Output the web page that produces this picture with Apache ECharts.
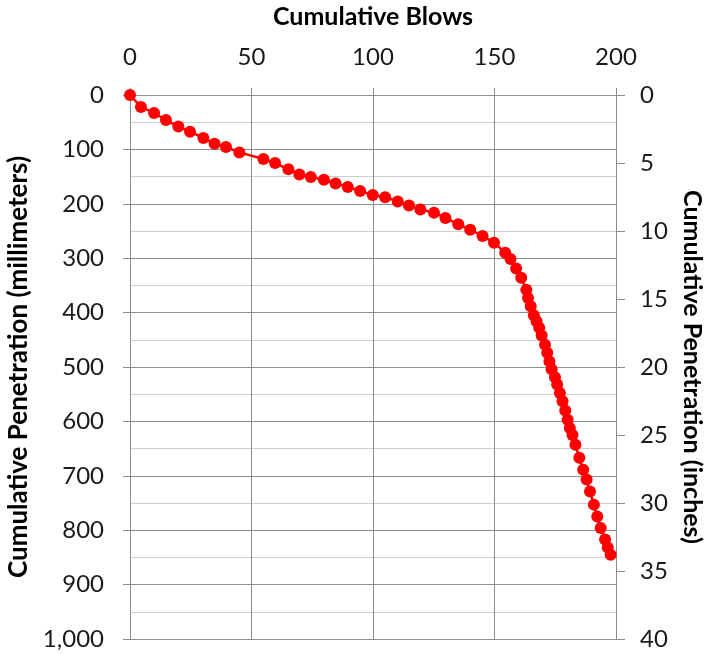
<!DOCTYPE html>
<html>
<head>
<meta charset="utf-8">
<script src="https://cdn.jsdelivr.net/npm/echarts@6/dist/echarts.min.js"></script>
<style>
  html, body { margin: 0; padding: 0; background: #fff; }
  #chart { width: 705px; height: 654px; }
</style>
</head>
<body>
<div id="chart"></div>
<script>
// Cumulative blow count and matching penetration depth (mm)
const blows = [
  0, 4.5, 9.9, 14.8, 19.9, 24.7, 30.2, 34.8, 39.5, 45,
  54.9, 59.7, 65.2, 69.7, 74.4, 79.8, 84.6, 89.6, 94.7, 99.9,
  105, 110.2, 114.8, 119.5, 125.1, 129.8, 135.1, 140, 145.1, 149.8,
  154.4, 156.6, 158.9, 161, 163.1, 163.8, 164.9, 166.2, 167.3, 168.4,
  169.4, 170.8, 171.7, 172.6, 173.5, 174.9, 175.8, 176.9, 178, 179.1,
  180.1, 181, 182.1, 183.3, 184.9, 186.5, 187.9, 189.3, 190.9, 192.3,
  193.7, 195.5, 196.6, 197.8
];
const penetrationMm = [
  0, 22, 33, 46, 58, 67.5, 79, 89.5, 95.6, 105.5,
  117.6, 125, 136.7, 146, 150.8, 155.7, 162.5, 169, 176.5, 183.8,
  188, 195.6, 203, 210.3, 216.4, 226, 237.8, 247.6, 259.2, 271.5,
  290, 301.5, 319, 336, 358, 373, 388.5, 405, 416, 428,
  442, 459, 474, 490, 504, 519, 532, 548, 563, 580,
  597, 612, 625, 643, 667, 689, 707, 729, 753, 775,
  796, 817, 832, 845
];

const xTicks = { min: 0, max: 200, step: 50 };
const mmTicks = { min: 0, max: 1000, step: 100 };
const inchTicks = { min: 0, max: 40, step: 5 };

const points = blows.map((b, i) => [b, penetrationMm[i]]);

const font = 'Lato, "Open Sans", sans-serif';
const majorGrid = '#8c8c8c';
const minorGrid = '#cfcfcf';

const chart = echarts.init(document.getElementById('chart'), null, { renderer: 'canvas' });
chart.setOption({
  animation: false,
  backgroundColor: '#ffffff',
  grid: { left: 130, right: 89, top: 95, bottom: 15, containLabel: false, outerBoundsMode: 'none' },
  xAxis: {
    type: 'value',
    position: 'top',
    min: xTicks.min, max: xTicks.max, interval: xTicks.step,
    name: 'Cumulative Blows',
    nameLocation: 'middle',
    nameGap: 66,
    nameTextStyle: { fontFamily: font, fontWeight: 'bold', fontSize: 25, color: '#000' },
    axisLine: { show: true, lineStyle: { color: majorGrid, width: 1 } },
    axisTick: { show: true, inside: false, length: 7, lineStyle: { color: majorGrid } },
    axisLabel: { fontFamily: font, fontSize: 24, color: '#1a1a1a', margin: 26 },
    splitLine: { show: true, lineStyle: { color: majorGrid, width: 1 } }
  },
  yAxis: [
    {
      type: 'value',
      inverse: true,
      position: 'left',
      min: mmTicks.min, max: mmTicks.max, interval: mmTicks.step,
      name: 'Cumulative Penetration (millimeters)',
      nameLocation: 'middle',
      nameGap: 95,
      nameTextStyle: { fontFamily: font, fontWeight: 'bold', fontSize: 26, color: '#000' },
      axisLine: { show: true, lineStyle: { color: majorGrid, width: 1 } },
      axisTick: { show: true, inside: false, length: 7, lineStyle: { color: majorGrid } },
      axisLabel: {
        fontFamily: font, fontSize: 24, color: '#1a1a1a', margin: 26,
        formatter: v => v.toLocaleString('en-US')
      },
      splitLine: { show: true, lineStyle: { color: majorGrid, width: 1 } },
      minorTick: { show: false, splitNumber: 2 },
      minorSplitLine: { show: true, lineStyle: { color: minorGrid, width: 1 } }
    },
    {
      type: 'value',
      inverse: true,
      position: 'right',
      min: inchTicks.min, max: inchTicks.max, interval: inchTicks.step,
      name: 'Cumulative Penetration (inches)',
      nameLocation: 'middle',
      nameGap: 64,
      nameRotate: -90,
      nameTextStyle: { fontFamily: font, fontWeight: 'bold', fontSize: 25, color: '#000' },
      axisLine: { show: true, lineStyle: { color: majorGrid, width: 1 } },
      axisTick: { show: true, inside: false, length: 9, lineStyle: { color: majorGrid } },
      axisLabel: { fontFamily: font, fontSize: 24, color: '#1a1a1a', margin: 24 },
      splitLine: { show: false }
    }
  ],
  series: [{
    type: 'line',
    yAxisIndex: 0,
    data: points,
    symbol: 'circle',
    symbolSize: 12,
    itemStyle: { color: '#ff0000' },
    lineStyle: { color: '#ff0000', width: 2.5 },
    z: 5
  }]
});
</script>
</body>
</html>
